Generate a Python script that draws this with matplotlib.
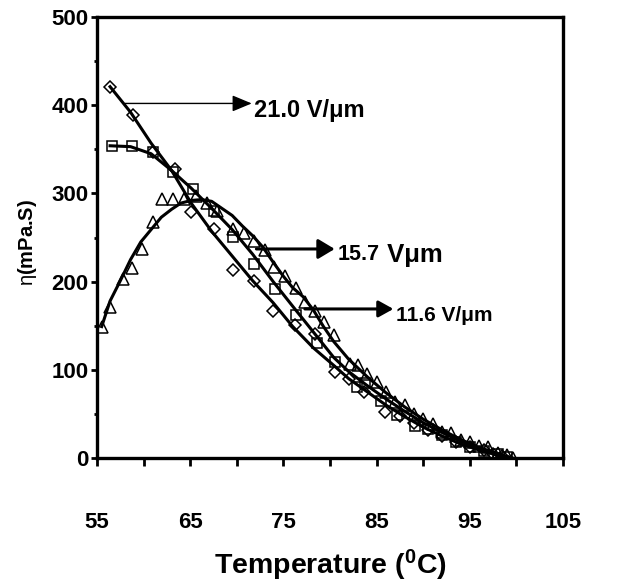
import matplotlib
matplotlib.use("Agg")
import matplotlib.pyplot as plt

plt.rcParams['font.family'] = ['Liberation Sans', 'DejaVu Sans']
plt.rcParams['mathtext.fontset'] = 'custom'
plt.rcParams['mathtext.rm'] = 'Liberation Sans'
plt.rcParams['mathtext.bf'] = 'Liberation Sans:bold'

# 21.0 V/um  (diamonds)
t_21 = [56.4, 58.9, 61.0, 63.4, 65.1, 67.5, 69.6, 71.8, 73.9, 76.2, 78.4, 80.5, 82.0,
        83.6, 85.9, 87.5, 89.0, 90.5, 92.0, 93.5, 95.0, 96.5, 97.5, 98.5]
v_21 = [421, 389, 347, 328, 279, 260, 213, 201, 167, 151, 141, 98, 90,
        75, 52, 48, 40, 32, 25, 18, 12, 9, 5, 2]
fit_t_21 = [56.4, 58.6, 60.8, 63.0, 65.1, 67.3, 69.5, 71.7, 73.9, 76.0, 78.2, 80.4,
            82, 84, 86, 88, 90, 92, 94, 96, 98, 99.5]
fit_v_21 = [421, 392, 357, 326, 289, 257, 229, 201, 176, 149, 125, 105,
            90, 75, 60, 47, 35, 25, 16, 9, 3, 0]

# 15.7 V/um  (squares)
t_157 = [56.6, 58.7, 61.0, 63.2, 65.3, 67.5, 69.6, 71.8, 74.1, 76.4, 78.6, 80.5,
         82.9, 83.8, 85.5, 87.2, 89.1, 90.5, 92.0, 93.5, 95.0, 96.5, 98.0, 99.0]
v_157 = [354, 354, 347, 324, 305, 280, 251, 220, 192, 162, 130, 109,
         81, 85, 65, 49, 36, 33, 26, 18, 12, 8, 4, 1]
fit_t_157 = [56.4, 58.6, 60.8, 63.0, 65.1, 67.3, 69.5, 71.7, 73.9, 76.0, 78.2, 80.4,
             82, 84, 86, 88, 90, 92, 94, 96, 98, 99.5]
fit_v_157 = [354, 353, 345, 326, 306, 283, 259, 231, 200, 172, 143, 114,
             98, 82, 67, 53, 40, 29, 19, 11, 4, 0]

# 11.6 V/um  (triangles)
t_116 = [55.5, 56.4, 57.8, 58.7, 59.8, 61.0, 62.0, 63.2, 64.3, 65.6, 66.8, 67.9, 69.6, 70.8,
         71.8, 73.0, 74.0, 75.2, 76.3, 77.3, 78.4, 79.4, 80.4, 82.1, 83.0, 84.0, 85.0, 86.0,
         87.0, 88.0, 89.0, 90.0, 91.0, 92.0, 93.0, 94.0, 95.0, 96.0, 97.0, 98.0, 99.0, 99.6]
v_116 = [148, 171, 203, 215, 237, 268, 294, 294, 294, 297, 289, 280, 260, 255,
         246, 236, 217, 206, 193, 177, 167, 154, 140, 107, 105, 95, 86, 75,
         64, 60, 50, 44, 38, 30, 28, 20, 18, 14, 12, 6, 3, 0]
fit_t_116 = [55.5, 56.4, 57.5, 58.6, 59.7, 60.8, 61.9, 63.0, 64.0, 65.1, 66.2, 67.3, 68.4,
             69.5, 70.6, 71.7, 72.8, 73.9, 75.0, 76.0, 77.1, 78.2, 79.3, 80.4,
             82, 84, 86, 88, 90, 92, 94, 96, 98, 99.5]
fit_v_116 = [149, 178, 201, 225, 245, 259, 273, 282, 289, 292, 293, 291, 283,
             275, 263, 252, 239, 222, 206, 193, 183, 168, 149, 132,
             112, 92, 74, 58, 44, 32, 21, 12, 5, 0]

x_major = [55, 65, 75, 85, 95, 105]
x_minor = [60, 70, 80, 90, 100]

fig = plt.figure(figsize=(6.3, 5.86), dpi=100)
ax = fig.add_axes([0.154, 0.2184, 0.7397, 0.7526])

mk = dict(linestyle='none', markerfacecolor='none', markeredgecolor='black', markeredgewidth=1.1)
ax.plot(t_21, v_21, marker='D', markersize=6, **mk)
ax.plot(t_157, v_157, marker='s', markersize=6.5, **mk)
ax.plot(t_116, v_116, marker='^', markersize=8, **mk)

for ft, fv in [(fit_t_21, fit_v_21), (fit_t_157, fit_v_157), (fit_t_116, fit_v_116)]:
    ax.plot(ft, fv, color='black', lw=2.2)


def arrow(x0, x1, y, lw, hl, hw):
    ax.annotate('', xy=(x1, y), xytext=(x0, y),
                arrowprops=dict(arrowstyle='-|>,head_length=%s,head_width=%s' % (hl, hw),
                                lw=lw, color='black', shrinkA=0, shrinkB=0, mutation_scale=20))


arrow(58.0, 71.6, 402, 1.0, 0.6, 0.25)
ax.text(71.8, 394, '21.0 V/\u03bcm', fontsize=17, fontweight='bold', va='center')

arrow(72.1, 80.5, 237, 2.2, 0.5, 0.3)
t157 = ax.text(80.8, 231, '15.7', fontsize=15.5, fontweight='bold', va='center')
ax.annotate(' V\u03bcm', xy=(1, 0.45), xycoords=t157, fontsize=18.5, fontweight='bold',
            va='center', ha='left')

arrow(77.3, 86.8, 169, 2.2, 0.45, 0.25)
ax.text(87.1, 162, '11.6 V/\u03bcm', fontsize=15, fontweight='bold', va='center')

ax.set_xlim(55, 105)
ax.set_ylim(0, 500)
ax.set_xticks(x_major)
ax.set_xticks(x_minor, minor=True)
ax.set_yticks(range(0, 501, 100))
ax.set_yticks(range(50, 500, 100), minor=True)

for s in ax.spines.values():
    s.set_linewidth(2.4)
ax.tick_params(which='both', width=2, direction='out')
ax.tick_params(axis='x', which='both', length=6)
ax.tick_params(axis='x', which='major', pad=33, labelsize=16)
ax.tick_params(axis='y', which='major', length=4, pad=2, labelsize=16)
ax.tick_params(axis='y', which='minor', length=2.5)
for lb in ax.get_xticklabels() + ax.get_yticklabels():
    lb.set_fontweight('bold')

ax.set_xlabel(r'Temperature ($\mathbf{^0}$C)', fontsize=20.5, fontweight='bold', va='center')
ax.xaxis.set_label_coords(0.5, -0.243)
ax.set_ylabel(r'$\mathrm{\eta}$(mPa.S)', fontsize=14.5, fontweight='bold', va='center')
ax.yaxis.set_label_coords(-0.15, 0.49)

fig.savefig('out.png', dpi=100)
